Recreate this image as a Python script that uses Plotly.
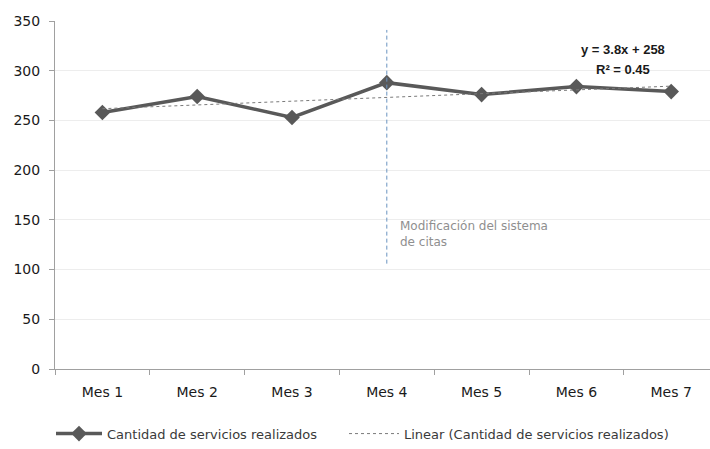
import numpy as np
import plotly.graph_objects as go

categories = ["Mes 1", "Mes 2", "Mes 3", "Mes 4", "Mes 5", "Mes 6", "Mes 7"]
servicios = [258, 274, 253, 288, 276, 284, 279]
y_ticks = [0, 50, 100, 150, 200, 250, 300, 350]
event_category = "Mes 4"
event_range = [106, 341]
event_text = "Modificación del sistema<br>de citas"
equation_text = "y = 3.8x + 258"
r2_text = "R² = 0.45"
series_name = "Cantidad de servicios realizados"
trend_name = "Linear (Cantidad de servicios realizados)"

xs = np.arange(1, len(servicios) + 1)
slope, intercept = np.polyfit(xs, servicios, 1)
trend = slope * xs + intercept

PLOT_W = 655.0
CAT_W = 94.8

fig = go.Figure()
fig.add_trace(go.Scatter(
    x=categories, y=servicios, mode="lines+markers", name=series_name,
    line=dict(color="#595959", width=3.5),
    marker=dict(symbol="diamond", size=12, color="#595959"),
    legend="legend",
))
fig.add_trace(go.Scatter(
    x=categories, y=trend, mode="lines", name=trend_name,
    line=dict(color="#7a7a7a", width=1, dash="dot"),
    legend="legend2",
))
fig.add_trace(go.Scatter(
    x=[event_category, event_category], y=event_range, mode="lines",
    line=dict(color="#6a93c0", width=1, dash="4px,3px"), showlegend=False,
    hoverinfo="skip",
))

fig.add_annotation(
    x=event_category, y=153, xref="x", yref="y",
    text=event_text, showarrow=False,
    xanchor="left", yanchor="top", xshift=11, align="left",
    font=dict(family="DejaVu Sans", size=12, color="#8f8f8f"),
)
fig.add_annotation(
    x=(623 - 55) / PLOT_W, y=321, xref="paper", yref="y",
    text=f"<b>{equation_text}</b>", showarrow=False,
    xanchor="center", yanchor="middle",
    font=dict(family="Liberation Sans, Arial", size=13, color="#1a1a1a"),
)
fig.add_annotation(
    x=(623 - 55) / PLOT_W, y=301, xref="paper", yref="y",
    text=f"<b>{r2_text}</b>", showarrow=False,
    xanchor="center", yanchor="middle",
    font=dict(family="Liberation Sans, Arial", size=13, color="#1a1a1a"),
)

legend_font = dict(family="DejaVu Sans", size=13, color="#3a3a3a")
fig.update_layout(
    width=710, height=449,
    margin=dict(l=55, r=0, t=21, b=78),
    paper_bgcolor="white", plot_bgcolor="white",
    font=dict(family="DejaVu Sans", color="#1a1a1a"),
    xaxis=dict(
        type="category", range=[-0.5, -0.5 + PLOT_W / CAT_W],
        showline=True, linecolor="#a0a0a0", linewidth=1,
        ticks="outside", tickson="boundaries", ticklen=5, tickcolor="#a0a0a0",
        showgrid=False, tickfont=dict(family="DejaVu Sans", size=14, color="#1a1a1a"),
        ticklabelstandoff=10,
    ),
    yaxis=dict(
        range=[0, 350], tickvals=y_ticks,
        showline=True, linecolor="#a0a0a0", linewidth=1,
        ticks="outside", ticklen=5, tickcolor="#a0a0a0",
        gridcolor="#ededed", gridwidth=1, zeroline=False,
        tickfont=dict(family="DejaVu Sans", size=14, color="#1a1a1a"),
        ticklabelstandoff=6,
    ),
    legend=dict(
        orientation="h", x=(51 - 55) / PLOT_W, xanchor="left",
        y=(371 - 436) / 350, yanchor="middle",
        font=legend_font, itemwidth=46, bgcolor="rgba(0,0,0,0)",
    ),
    legend2=dict(
        orientation="h", x=(344 - 55) / PLOT_W, xanchor="left",
        y=(371 - 436) / 350, yanchor="middle",
        font=legend_font, itemwidth=50, bgcolor="rgba(0,0,0,0)",
    ),
    showlegend=True,
)

fig.write_html("out.html")
